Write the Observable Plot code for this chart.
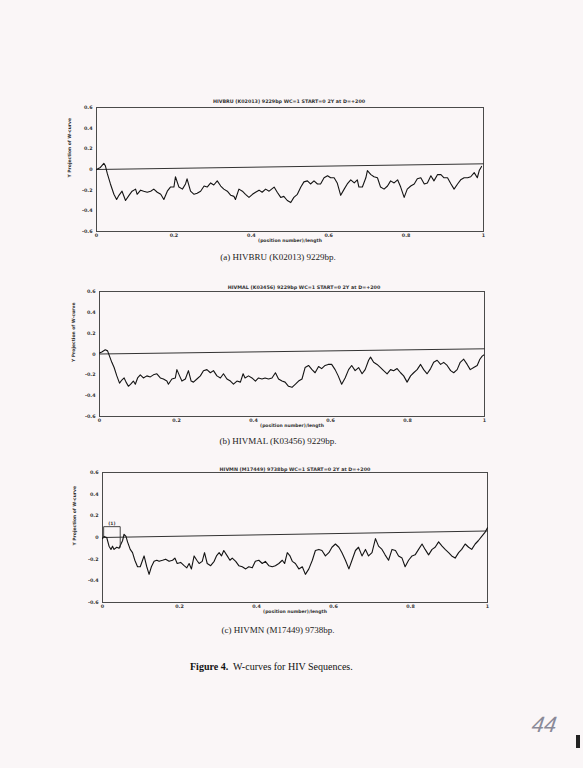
<!DOCTYPE html>
<html><head><meta charset="utf-8">
<script src="https://cdn.jsdelivr.net/npm/d3@7"></script>
<script src="https://cdn.jsdelivr.net/npm/@observablehq/plot@0.6"></script>
<style>
html,body{margin:0;padding:0}
body{background:#faf6f7;width:583px;height:768px;overflow:hidden;position:relative;font-family:"Liberation Serif",serif}
.chart{position:absolute;left:0}
.cap{position:absolute;left:0;width:556px;text-align:center;font-size:9px;line-height:9px;color:#222}
.fig{position:absolute;left:190px;font-size:10px;line-height:10px;color:#111}
.hand{position:absolute;left:532px;top:712px;font-family:"Liberation Sans",sans-serif;font-style:italic;font-size:22px;color:#8a8a98;font-weight:300;transform:skewX(-8deg)}
.mark{position:absolute;left:576px;top:735px;width:4px;height:13px;background:#222}
</style></head><body>
<div id="c1" class="chart" style="top:90px"></div>
<div id="c2" class="chart" style="top:275px"></div>
<div id="c3" class="chart" style="top:455px"></div>
<div class="cap" style="top:253px">(a) HIVBRU (K02013) 9229bp.</div>
<div class="cap" style="top:437px">(b) HIVMAL (K03456) 9229bp.</div>
<div class="cap" style="top:626px">(c) HIVMN (M17449) 9738bp.</div>
<div class="fig" style="top:662px"><b>Figure 4.</b>&nbsp; W-curves for HIV Sequences.</div>
<div class="hand">44</div>
<div class="mark"></div>
<script>
// ---- data ----
const titles = [
  "HIVBRU (K02013) 9229bp WC=1 START=0 2Y at D=+200",
  "HIVMAL (K03456) 9229bp WC=1 START=0 2Y at D=+200",
  "HIVMN (M17449) 9738bp WC=1 START=0 2Y at D=+200"
];
const xTicks = [0, 0.2, 0.4, 0.6, 0.8, 1];
const yTicks = [-0.6, -0.4, -0.2, 0, 0.2, 0.4, 0.6];
const xLabel = "(position number)/length";
const yLabel = "Y Projection of W-curve";
const baseEnds = [0.055, 0.05, 0.06];

const pos1 = [0,0.010,0.019,0.023,0.028,0.036,0.045,0.052,0.058,0.066,0.075,0.084,0.092,0.101,0.105,0.114,0.122,0.131,0.140,0.148,0.157,0.166,0.174,0.183,0.191,0.2,0.204,0.213,0.222,0.230,0.234,0.243,0.252,0.260,0.269,0.278,0.286,0.295,0.303,0.312,0.321,0.329,0.338,0.347,0.355,0.359,0.368,0.377,0.385,0.394,0.403,0.411,0.420,0.428,0.437,0.446,0.459,0.467,0.476,0.484,0.493,0.502,0.510,0.519,0.528,0.536,0.545,0.553,0.562,0.571,0.579,0.588,0.597,0.605,0.614,0.622,0.631,0.640,0.648,0.657,0.666,0.674,0.678,0.687,0.696,0.7,0.709,0.717,0.726,0.734,0.743,0.752,0.760,0.769,0.778,0.786,0.795,0.803,0.812,0.821,0.829,0.838,0.847,0.855,0.864,0.872,0.881,0.890,0.898,0.907,0.916,0.924,0.933,0.941,0.950,0.959,0.967,0.976,0.984,0.989,0.995];
const val1 = [0,0.02,0.06,0.035,-0.04,-0.14,-0.24,-0.29,-0.25,-0.21,-0.30,-0.25,-0.21,-0.19,-0.24,-0.20,-0.21,-0.22,-0.21,-0.19,-0.22,-0.24,-0.29,-0.21,-0.17,-0.17,-0.07,-0.17,-0.19,-0.14,-0.09,-0.21,-0.24,-0.23,-0.21,-0.16,-0.17,-0.13,-0.15,-0.11,-0.16,-0.19,-0.21,-0.25,-0.26,-0.29,-0.19,-0.21,-0.24,-0.27,-0.24,-0.22,-0.20,-0.22,-0.19,-0.21,-0.17,-0.22,-0.27,-0.26,-0.30,-0.32,-0.27,-0.24,-0.17,-0.12,-0.11,-0.14,-0.11,-0.14,-0.14,-0.08,-0.06,-0.08,-0.08,-0.13,-0.25,-0.19,-0.14,-0.10,-0.13,-0.10,-0.17,-0.17,-0.08,-0.01,-0.05,-0.07,-0.08,-0.17,-0.19,-0.16,-0.11,-0.13,-0.10,-0.17,-0.27,-0.19,-0.16,-0.14,-0.09,-0.08,-0.14,-0.13,-0.06,-0.11,-0.05,-0.05,-0.08,-0.08,-0.14,-0.19,-0.14,-0.10,-0.08,-0.08,-0.07,-0.03,-0.08,-0.01,0.03];

const pos2 = [0,0.006,0.015,0.021,0.026,0.032,0.038,0.045,0.052,0.058,0.064,0.069,0.075,0.081,0.088,0.093,0.099,0.106,0.114,0.123,0.132,0.140,0.149,0.158,0.166,0.175,0.179,0.188,0.197,0.201,0.208,0.214,0.223,0.231,0.238,0.244,0.253,0.262,0.270,0.279,0.288,0.296,0.305,0.314,0.322,0.331,0.340,0.348,0.357,0.366,0.373,0.378,0.387,0.396,0.405,0.413,0.422,0.430,0.439,0.448,0.457,0.465,0.474,0.482,0.491,0.500,0.509,0.517,0.526,0.534,0.543,0.552,0.560,0.569,0.577,0.586,0.594,0.603,0.612,0.620,0.629,0.638,0.647,0.655,0.664,0.673,0.682,0.690,0.699,0.704,0.712,0.721,0.730,0.738,0.747,0.756,0.764,0.773,0.782,0.790,0.799,0.808,0.816,0.825,0.834,0.842,0.851,0.860,0.868,0.877,0.886,0.894,0.903,0.912,0.920,0.929,0.937,0.946,0.955,0.963,0.972,0.981,0.988,0.994,0.998];
const val2 = [0.01,0.02,0.04,0.03,-0.02,-0.08,-0.13,-0.21,-0.28,-0.25,-0.23,-0.27,-0.31,-0.29,-0.26,-0.29,-0.23,-0.20,-0.23,-0.21,-0.22,-0.20,-0.19,-0.23,-0.24,-0.26,-0.29,-0.24,-0.23,-0.15,-0.21,-0.26,-0.24,-0.16,-0.26,-0.27,-0.24,-0.21,-0.16,-0.15,-0.18,-0.16,-0.21,-0.23,-0.19,-0.24,-0.26,-0.29,-0.26,-0.27,-0.19,-0.23,-0.21,-0.23,-0.26,-0.23,-0.24,-0.23,-0.24,-0.23,-0.18,-0.24,-0.26,-0.27,-0.31,-0.32,-0.29,-0.26,-0.24,-0.13,-0.11,-0.15,-0.18,-0.12,-0.14,-0.11,-0.10,-0.10,-0.15,-0.21,-0.29,-0.23,-0.15,-0.11,-0.16,-0.13,-0.19,-0.15,-0.06,-0.03,-0.08,-0.10,-0.13,-0.16,-0.19,-0.15,-0.16,-0.14,-0.18,-0.21,-0.27,-0.21,-0.18,-0.15,-0.10,-0.15,-0.19,-0.14,-0.08,-0.06,-0.10,-0.08,-0.11,-0.16,-0.18,-0.15,-0.08,-0.05,-0.10,-0.15,-0.13,-0.11,-0.05,-0.02,-0.01];

const pos3 = [0,0.004,0.011,0.017,0.022,0.026,0.030,0.037,0.043,0.048,0.052,0.056,0.061,0.065,0.072,0.078,0.084,0.091,0.098,0.104,0.108,0.115,0.121,0.127,0.134,0.141,0.147,0.156,0.164,0.173,0.182,0.188,0.194,0.203,0.212,0.219,0.225,0.231,0.238,0.245,0.251,0.259,0.265,0.272,0.281,0.290,0.296,0.303,0.309,0.315,0.324,0.331,0.337,0.346,0.354,0.363,0.372,0.380,0.389,0.397,0.406,0.415,0.423,0.432,0.441,0.449,0.458,0.467,0.473,0.480,0.487,0.493,0.501,0.510,0.519,0.527,0.536,0.545,0.553,0.562,0.570,0.579,0.588,0.596,0.605,0.614,0.622,0.631,0.640,0.648,0.657,0.665,0.674,0.683,0.691,0.700,0.709,0.717,0.726,0.734,0.743,0.752,0.761,0.769,0.778,0.786,0.795,0.804,0.812,0.821,0.830,0.838,0.847,0.856,0.864,0.873,0.882,0.890,0.899,0.907,0.916,0.925,0.933,0.942,0.951,0.959,0.968,0.976,0.985,0.994,1.0];
const val3 = [-0.01,0.01,0.00,-0.08,-0.11,-0.08,-0.11,-0.09,-0.10,-0.06,-0.03,0.03,0.01,-0.04,-0.11,-0.14,-0.21,-0.27,-0.27,-0.21,-0.17,-0.27,-0.34,-0.27,-0.22,-0.21,-0.22,-0.21,-0.20,-0.22,-0.21,-0.19,-0.24,-0.23,-0.26,-0.28,-0.24,-0.29,-0.17,-0.21,-0.24,-0.22,-0.14,-0.24,-0.26,-0.22,-0.17,-0.14,-0.17,-0.12,-0.17,-0.21,-0.19,-0.22,-0.26,-0.27,-0.29,-0.27,-0.28,-0.22,-0.21,-0.24,-0.22,-0.26,-0.27,-0.26,-0.24,-0.21,-0.24,-0.14,-0.17,-0.22,-0.24,-0.29,-0.27,-0.34,-0.29,-0.21,-0.12,-0.11,-0.12,-0.17,-0.14,-0.09,-0.06,-0.09,-0.14,-0.21,-0.29,-0.21,-0.12,-0.09,-0.17,-0.11,-0.17,-0.14,-0.01,-0.08,-0.11,-0.16,-0.21,-0.11,-0.12,-0.17,-0.19,-0.27,-0.21,-0.17,-0.16,-0.11,-0.06,-0.11,-0.16,-0.11,-0.09,-0.04,-0.08,-0.11,-0.14,-0.17,-0.19,-0.14,-0.11,-0.06,-0.09,-0.11,-0.06,-0.03,0.01,0.05,0.09];

// annotation box in panel (c)
const boxX = [0.003, 0.003, 0.046, 0.046];
const boxY = [0, 0.1, 0.1, -0.09];
const boxLabel = "(1)";

// ---- drawing ----
const fmtY = d => d === 0 ? "0" : d.toFixed(1);
const fmtX = d => (d === 0 || d === 1) ? String(d) : d.toFixed(1);

function chart(el, pos, val, title, o) {
  const data = pos.map((p, i) => ({x: p, y: val[i]}));
  const marks = [
    Plot.frame({stroke: "#4a4a4a", strokeWidth: 1}),
    Plot.line([{x: 0, y: 0}, {x: 1, y: o.base}], {x: "x", y: "y", stroke: "#333", strokeWidth: 1}),
    Plot.line(data, {x: "x", y: "y", stroke: "#141414", strokeWidth: 1.1}),
    Plot.text([title], {frameAnchor: "top", dy: o.tdy, dx: o.tdx, text: d => d, fontSize: 4.8, fontWeight: "bold", fill: "#333"}),
    Plot.text([xLabel], {frameAnchor: "bottom", dy: 10, text: d => d, fontSize: 4.5, fontWeight: "bold", fill: "#333"}),
    Plot.text([yLabel], {frameAnchor: "left", dx: o.ydx, dy: 8, rotate: -90, text: d => d, fontSize: 4.5, fontWeight: "bold", fill: "#333"})
  ];
  if (o.box) {
    const bd = boxX.map((x, i) => ({x, y: boxY[i]}));
    marks.push(Plot.line(bd, {x: "x", y: "y", stroke: "#333", strokeWidth: 0.9}));
    marks.push(Plot.text([boxLabel], {x: (boxX[0] + boxX[2]) / 2, y: 0.13, text: d => d, fontSize: 4.5, fill: "#333"}));
  }
  const svg = Plot.plot({
    width: 583, height: o.h,
    marginLeft: o.l, marginRight: 583 - o.r, marginTop: o.mt, marginBottom: o.mb,
    style: {background: "transparent", fontFamily: "DejaVu Sans", fontSize: "4.8px", fontWeight: "bold", color: "#333"},
    x: {domain: [0, 1], ticks: xTicks, tickFormat: fmtX, tickSize: 0, tickPadding: 2, label: null},
    y: {domain: [-0.6, 0.6], ticks: yTicks, tickFormat: fmtY, tickSize: 0, tickPadding: 4, label: null},
    marks
  });
  document.getElementById(el).appendChild(svg);
}

chart("c1", pos1, val1, titles[0], {h: 171, l: 96, r: 483, mt: 17, mb: 30, base: baseEnds[0], tdy: -8, tdx: -1, ydx: -27});
chart("c2", pos2, val2, titles[1], {h: 171, l: 99, r: 484, mt: 16, mb: 30, base: baseEnds[1], tdy: -6, tdx: 12, ydx: -26});
chart("c3", pos3, val3, titles[2], {h: 177, l: 102, r: 487, mt: 17, mb: 30, base: baseEnds[2], tdy: -5, tdx: 0, ydx: -28, box: true});
</script>
</body></html>
